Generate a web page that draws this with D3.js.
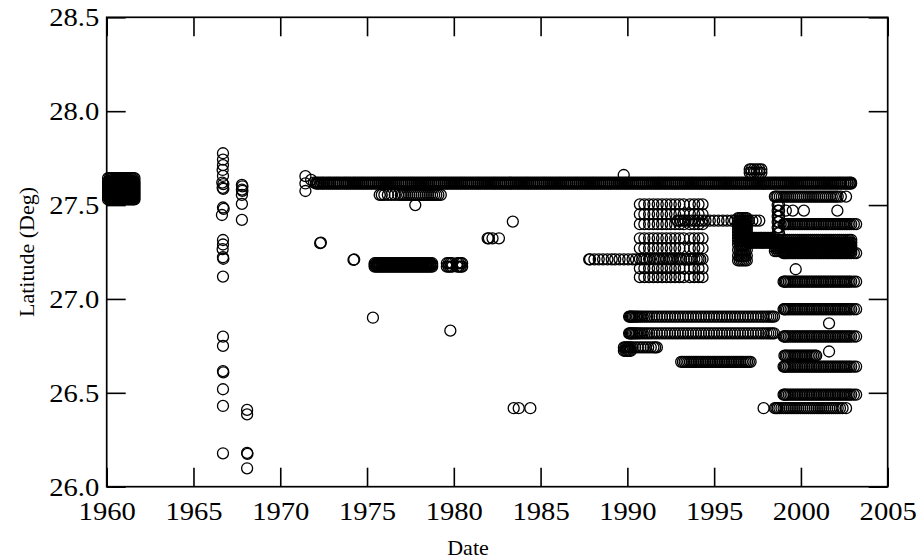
<!DOCTYPE html>
<html>
<head>
<meta charset="utf-8">
<script src="https://cdn.jsdelivr.net/npm/d3@7"></script>
<style>
  body { margin: 0; background: #fff; }
</style>
</head>
<body>
<svg id="chart" width="919" height="559"></svg>
<script>
// ---- axis ticks ----
const xTicks = [1960, 1965, 1970, 1975, 1980, 1985, 1990, 1995, 2000, 2005];
const yTicks = [26.0, 26.5, 27.0, 27.5, 28.0, 28.5];

// ---- observations: each group pairs a list of dates with the latitudes seen on them ----
const block1960Dates = [1960.08, 1960.17, 1960.26, 1960.35, 1960.44, 1960.53, 1960.62, 1960.71, 1960.8, 1960.89, 1960.98, 1961.07, 1961.16, 1961.25, 1961.34, 1961.43, 1961.52, 1961.6];
const block1960Lats = [27.53, 27.542, 27.554, 27.566, 27.578, 27.59, 27.602, 27.614, 27.626, 27.643];

const mainRowDates = [1972.08, 1972.18, 1972.3, 1972.42, 1972.52, 1972.65, 1972.77, 1972.88, 1973.0, 1973.12, 1973.24, 1973.35, 1973.47, 1973.6, 1973.72, 1973.83, 1973.95, 1974.07, 1974.2, 1974.31, 1974.43, 1974.55, 1974.67, 1974.78, 1974.9, 1975.02, 1975.14, 1975.26, 1975.38, 1975.5, 1975.62, 1975.73, 1975.85, 1975.97, 1976.09, 1976.21, 1976.33, 1976.45, 1976.57, 1976.68, 1976.8, 1976.92, 1977.04, 1977.16, 1977.28, 1977.4, 1977.52, 1977.63, 1977.75, 1977.87, 1977.99, 1978.11, 1978.23, 1978.35, 1978.47, 1978.58, 1978.7, 1978.82, 1978.94, 1979.06, 1979.18, 1979.3, 1979.42, 1979.53, 1979.65, 1979.77, 1979.89, 1980.01, 1980.13, 1980.25, 1980.37, 1980.48, 1980.6, 1980.72, 1980.84, 1980.96, 1981.08, 1981.2, 1981.32, 1981.43, 1981.55, 1981.67, 1981.79, 1981.91, 1982.03, 1982.15, 1982.27, 1982.38, 1982.5, 1982.62, 1982.74, 1982.86, 1982.98, 1983.1, 1983.22, 1983.33, 1983.45, 1983.57, 1983.69, 1983.81, 1983.93, 1984.05, 1984.17, 1984.28, 1984.4, 1984.52, 1984.64, 1984.76, 1984.88, 1985.0, 1985.12, 1985.23, 1985.35, 1985.47, 1985.59, 1985.71, 1985.83, 1985.95, 1986.07, 1986.18, 1986.3, 1986.42, 1986.54, 1986.66, 1986.78, 1986.9, 1987.02, 1987.13, 1987.25, 1987.37, 1987.49, 1987.61, 1987.73, 1987.85, 1987.97, 1988.08, 1988.2, 1988.32, 1988.44, 1988.56, 1988.68, 1988.8, 1988.92, 1989.03, 1989.15, 1989.27, 1989.39, 1989.51, 1989.63, 1989.75, 1989.87, 1989.98, 1990.1, 1990.22, 1990.34, 1990.46, 1990.58, 1990.7, 1990.82, 1990.93, 1991.05, 1991.17, 1991.29, 1991.41, 1991.53, 1991.65, 1991.77, 1991.88, 1992.0, 1992.12, 1992.24, 1992.36, 1992.48, 1992.6, 1992.72, 1992.83, 1992.95, 1993.07, 1993.19, 1993.31, 1993.43, 1993.55, 1993.67, 1993.78, 1993.9, 1994.02, 1994.14, 1994.26, 1994.38, 1994.5, 1994.62, 1994.73, 1994.85, 1994.97, 1995.09, 1995.21, 1995.33, 1995.45, 1995.57, 1995.68, 1995.8, 1995.92, 1996.04, 1996.16, 1996.28, 1996.4, 1996.52, 1996.63, 1996.75, 1996.87, 1996.99, 1997.11, 1997.23, 1997.35, 1997.47, 1997.58, 1997.7, 1997.82, 1997.94, 1998.06, 1998.18, 1998.3, 1998.42, 1998.53, 1998.65, 1998.77, 1998.89, 1999.01, 1999.13, 1999.25, 1999.37, 1999.48, 1999.6, 1999.72, 1999.84, 1999.96, 2000.08, 2000.2, 2000.32, 2000.43, 2000.55, 2000.67, 2000.79, 2000.91, 2001.03, 2001.15, 2001.27, 2001.38, 2001.5, 2001.62, 2001.74, 2001.86, 2001.98, 2002.1, 2002.22, 2002.33, 2002.45, 2002.57, 2002.69, 2002.81, 2002.89];
const mainRowLats = [27.614, 27.619];

const row1977UpperDates = [1975.73, 1975.85, 1976.0, 1976.2, 1976.4, 1976.6, 1976.8, 1976.95, 1977.07, 1977.19, 1977.31, 1977.43, 1977.55, 1977.67, 1977.79, 1977.91, 1978.03, 1978.15, 1978.27, 1978.39, 1978.51, 1978.63, 1978.75, 1978.87, 1978.99, 1979.11, 1979.25];
const row1977UpperLats = [27.554];

const row1977LowerDates = [1975.44, 1975.54, 1975.64, 1975.74, 1975.84, 1975.94, 1976.04, 1976.14, 1976.24, 1976.34, 1976.44, 1976.54, 1976.64, 1976.74, 1976.84, 1976.94, 1977.04, 1977.14, 1977.24, 1977.34, 1977.44, 1977.54, 1977.64, 1977.74, 1977.84, 1977.94, 1978.04, 1978.14, 1978.24, 1978.34, 1978.44, 1978.54, 1978.64, 1978.75];
const row1977LowerLats = [27.172, 27.181, 27.19];

const row1980Dates = [1979.6, 1979.7, 1979.8, 1979.9, 1980.2, 1980.3, 1980.4, 1980.48];
const row1980Lats = [27.172, 27.19];

const row1988Dates = [1987.8, 1987.85, 1988.1, 1988.35, 1988.6, 1988.85, 1989.1, 1989.3, 1989.55, 1989.8, 1990.05, 1990.3, 1990.5, 1990.85, 1991.1, 1991.3, 1991.6, 1991.85, 1992.1, 1992.4, 1992.6, 1992.9, 1993.1, 1993.4, 1993.7, 1994.0, 1994.2];
const row1988Lats = [27.211];

const grid1991Dates = [1990.72, 1990.98, 1991.25, 1991.5, 1991.75, 1992.0, 1992.25, 1992.5, 1992.75, 1993.0, 1993.25, 1993.6, 1993.85, 1994.1, 1994.33];
const grid1991Lats = [27.504, 27.451, 27.398, 27.323, 27.27, 27.213, 27.163, 27.116];

const row1995Dates = [1992.9, 1993.05, 1993.2, 1993.35, 1993.5, 1993.7, 1993.9, 1994.1, 1994.3, 1994.5, 1994.75, 1995.0, 1995.25, 1995.5, 1995.75, 1996.0, 1996.2, 1997.0, 1997.2, 1997.4, 1997.6];
const row1995Lats = [27.417];

const column1996Dates = [1996.38, 1996.48, 1996.58, 1996.68, 1996.78, 1996.88];
const column1996Lats = [27.43, 27.415, 27.4, 27.385, 27.37, 27.355, 27.34, 27.325, 27.31, 27.29, 27.26, 27.23, 27.205];

const band1997Dates = [1996.95, 1997.05, 1997.15, 1997.25, 1997.35, 1997.45, 1997.55, 1997.65, 1997.75, 1997.85, 1997.95, 1998.05, 1998.15, 1998.25, 1998.35];
const band1997Lats = [27.325, 27.312, 27.30];

const blob1997Dates = [1997.05, 1997.15, 1997.3, 1997.45, 1997.6, 1997.72];
const blob1997Lats = [27.69, 27.672];

const stack1998Dates = [1998.66, 1998.74];
const stack1998Lats = [27.50, 27.47, 27.44, 27.41, 27.38, 27.35];

const row2000UpperDates = [1998.5, 1998.58, 1998.66, 1998.78, 1998.9, 1999.02, 1999.14, 1999.26, 1999.38, 1999.5, 1999.62, 1999.74, 1999.86, 1999.98, 2000.1, 2000.22, 2000.34, 2000.46, 2000.58, 2000.7, 2000.82, 2000.94, 2001.06, 2001.18, 2001.3, 2001.42, 2001.54, 2001.66, 2001.78, 2001.9, 2002.02, 2002.12, 2002.3, 2002.6];
const row2000UpperLats = [27.545];

const lateDates = [1999.0, 1999.06, 1999.12, 1999.2, 1999.3, 1999.4, 1999.5, 1999.6, 1999.7, 1999.8, 1999.9, 2000.0, 2000.1, 2000.2, 2000.3, 2000.4, 2000.5, 2000.6, 2000.7, 2000.8, 2000.9, 2001.0, 2001.1, 2001.2, 2001.3, 2001.4, 2001.5, 2001.6, 2001.7, 2001.8, 2001.9, 2002.0, 2002.1, 2002.2, 2002.3, 2002.4, 2002.5, 2002.6, 2002.7, 2002.8, 2002.9, 2003.05, 2003.18];
const lateLats = [27.398, 27.244, 27.092, 26.945, 26.80, 26.64, 26.49];

const block1999Dates = [1998.5, 1998.62, 1998.74, 1998.86, 1998.98, 1999.1, 1999.22, 1999.34, 1999.46, 1999.58, 1999.7, 1999.82, 1999.94, 2000.06, 2000.18, 2000.3, 2000.42, 2000.54, 2000.66, 2000.78, 2000.9, 2001.02, 2001.14, 2001.26, 2001.38, 2001.5, 2001.62, 2001.74, 2001.86, 2001.98, 2002.1, 2002.22, 2002.34, 2002.46, 2002.58, 2002.7, 2002.8, 2002.9];
const block1999Lats = [27.315, 27.30, 27.285, 27.27, 27.255];

const row2000MidDates = [1999.05, 1999.12, 1999.2, 1999.3, 1999.4, 1999.5, 1999.6, 1999.7, 1999.8, 1999.9, 2000.0, 2000.1, 2000.2, 2000.3, 2000.4, 2000.5, 2000.6, 2000.7, 2000.8, 2000.88];
const row2000MidLats = [26.698];

const row2000LowDates = [1998.5, 1998.58, 1998.66, 1998.76, 1998.88, 1999.0, 1999.12, 1999.24, 1999.36, 1999.48, 1999.6, 1999.72, 1999.84, 1999.96, 2000.08, 2000.2, 2000.32, 2000.44, 2000.56, 2000.68, 2000.8, 2000.92, 2001.04, 2001.16, 2001.28, 2001.4, 2001.52, 2001.64, 2001.76, 2001.88, 2002.0, 2002.12, 2002.25, 2002.4, 2002.6];
const row2000LowLats = [26.418];

const rows1994Dates = [1990.1, 1990.15, 1990.2, 1990.26, 1990.32, 1990.4, 1990.48, 1990.56, 1990.65, 1990.75, 1990.87, 1991.0, 1991.13, 1991.26, 1991.4, 1991.55, 1991.7, 1991.85, 1992.0, 1992.15, 1992.3, 1992.45, 1992.6, 1992.75, 1992.9, 1993.05, 1993.2, 1993.35, 1993.5, 1993.65, 1993.8, 1993.95, 1994.1, 1994.25, 1994.4, 1994.55, 1994.7, 1994.85, 1995.0, 1995.15, 1995.3, 1995.45, 1995.6, 1995.75, 1995.9, 1996.05, 1996.2, 1996.35, 1996.5, 1996.65, 1996.8, 1996.95, 1997.1, 1997.25, 1997.4, 1997.55, 1997.7, 1997.85, 1998.0, 1998.12, 1998.24, 1998.35, 1998.45];
const rows1994Lats = [26.906, 26.817];

const row1990Dates = [1989.8, 1989.88, 1989.96, 1990.04, 1990.12, 1990.2, 1990.3, 1990.45, 1990.6, 1990.75, 1990.9, 1991.05, 1991.2, 1991.35, 1991.5, 1991.6, 1991.7];
const row1990Lats = [26.742];
const row1990LowDates = [1989.8, 1989.88, 1989.96, 1990.04, 1990.12, 1990.2];
const row1990LowLats = [26.724];

const row1995LowDates = [1993.1, 1993.2, 1993.3, 1993.4, 1993.5, 1993.6, 1993.7, 1993.8, 1993.9, 1994.0, 1994.1, 1994.2, 1994.3, 1994.4, 1994.5, 1994.6, 1994.7, 1994.8, 1994.9, 1995.0, 1995.1, 1995.2, 1995.3, 1995.4, 1995.5, 1995.6, 1995.7, 1995.8, 1995.9, 1996.0, 1996.1, 1996.2, 1996.3, 1996.4, 1996.5, 1996.6, 1996.7, 1996.8, 1996.9, 1997.0, 1997.1];
const row1995LowLats = [26.665];

// single observations as [date, latitude]
const isolatedObs = [
  [1966.70, 27.776], [1966.70, 27.742], [1966.70, 27.713], [1966.68, 27.687], [1966.70, 27.655],
  [1966.66, 27.62], [1966.72, 27.612], [1966.68, 27.592], [1966.72, 27.586], [1966.70, 27.487],
  [1966.74, 27.48], [1966.64, 27.447], [1966.70, 27.314], [1966.70, 27.29], [1966.68, 27.265],
  [1966.70, 27.222], [1966.72, 27.214], [1966.70, 27.119],
  [1966.70, 26.799], [1966.70, 26.75], [1966.70, 26.616], [1966.72, 26.609], [1966.70, 26.519],
  [1966.70, 26.43], [1966.70, 26.178],
  [1967.79, 27.607], [1967.82, 27.60], [1967.79, 27.582], [1967.82, 27.576], [1967.79, 27.554],
  [1967.79, 27.506], [1967.79, 27.421],
  [1968.09, 26.409], [1968.09, 26.385], [1968.09, 26.18], [1968.11, 26.175], [1968.09, 26.098],
  [1971.45, 27.654], [1971.45, 27.615], [1971.45, 27.575], [1971.78, 27.634], [1971.95, 27.62],
  [1972.30, 27.297], [1972.34, 27.30], [1974.22, 27.208], [1974.26, 27.21],
  [1975.34, 26.90], [1977.78, 27.50], [1979.80, 26.831],
  [1981.95, 27.323], [1982.02, 27.323], [1982.23, 27.323], [1982.60, 27.323],
  [1983.40, 27.412], [1983.45, 26.418], [1983.74, 26.418], [1984.41, 26.418],
  [1989.79, 27.66],
  [1997.85, 26.418], [1999.13, 27.47], [1999.53, 27.47], [2000.17, 27.47], [2002.10, 27.47],
  [1999.70, 27.158], [2001.62, 26.87], [2001.62, 26.72]
];

const groups = [
  [block1960Dates, block1960Lats],
  [mainRowDates, mainRowLats],
  [row1977UpperDates, row1977UpperLats],
  [row1977LowerDates, row1977LowerLats],
  [row1980Dates, row1980Lats],
  [row1988Dates, row1988Lats],
  [grid1991Dates, grid1991Lats],
  [row1995Dates, row1995Lats],
  [column1996Dates, column1996Lats],
  [band1997Dates, band1997Lats],
  [blob1997Dates, blob1997Lats],
  [stack1998Dates, stack1998Lats],
  [row2000UpperDates, row2000UpperLats],
  [lateDates, lateLats],
  [block1999Dates, block1999Lats],
  [row2000MidDates, row2000MidLats],
  [row2000LowDates, row2000LowLats],
  [rows1994Dates, rows1994Lats],
  [row1990Dates, row1990Lats],
  [row1990LowDates, row1990LowLats],
  [row1995LowDates, row1995LowLats]
];

// flatten every group into [date, latitude] points
const points = [];
groups.forEach(([dates, lats]) => {
  lats.forEach(lat => dates.forEach(d => points.push([d, lat])));
});
isolatedObs.forEach(p => points.push(p));

// ---- layout ----
const serif = "'Liberation Serif', 'Times New Roman', Times, serif";
const svg = d3.select("#chart");
const plot = { left: 106.7, right: 887.7, top: 17.3, bottom: 486.7 };

const x = d3.scaleLinear().domain([1960, 2005]).range([plot.left, plot.right]);
const y = d3.scaleLinear().domain([26.0, 28.5]).range([plot.bottom, plot.top]);

// ---- markers: open circles ----
svg.append("g")
  .selectAll("circle")
  .data(points)
  .join("circle")
  .attr("cx", d => x(d[0]))
  .attr("cy", d => y(d[1]))
  .attr("r", 5.5)
  .attr("fill", "none")
  .attr("stroke", "#000")
  .attr("stroke-width", 1.3);

// ---- axes: inward ticks on all four sides ----
const tickLen = 19;
const fmtY = d3.format(".1f");
const stretch = 1.1;

const gBottom = svg.append("g")
  .attr("transform", `translate(0,${plot.bottom})`)
  .call(d3.axisBottom(x).tickValues(xTicks).tickSize(-tickLen).tickFormat(d3.format("d")));
gBottom.selectAll("text")
  .attr("y", 33).attr("dy", null)
  .attr("transform", `scale(${stretch},1)`);

const gTop = svg.append("g")
  .attr("transform", `translate(0,${plot.top})`)
  .call(d3.axisTop(x).tickValues(xTicks).tickSize(-tickLen).tickFormat(""));

const gLeft = svg.append("g")
  .attr("transform", `translate(${plot.left},0)`)
  .call(d3.axisLeft(y).tickValues(yTicks).tickSize(-tickLen).tickFormat(fmtY));
gLeft.selectAll("text")
  .attr("x", -7.5 / stretch).attr("dy", "0.33em")
  .attr("transform", `scale(${stretch},1)`);

const gRight = svg.append("g")
  .attr("transform", `translate(${plot.right},0)`)
  .call(d3.axisRight(y).tickValues(yTicks).tickSize(-tickLen).tickFormat(""));

[gBottom, gTop, gLeft, gRight].forEach(g => {
  g.attr("font-family", serif).attr("font-size", 26);
  g.select(".domain").remove();
  g.selectAll(".tick line").attr("stroke", "#000").attr("stroke-width", 1.6);
  g.selectAll("text").attr("fill", "#000").style("font-family", serif).style("font-size", "26px");
});

// plot frame
svg.append("rect")
  .attr("x", plot.left)
  .attr("y", plot.top)
  .attr("width", plot.right - plot.left)
  .attr("height", plot.bottom - plot.top)
  .attr("fill", "none")
  .attr("stroke", "#000")
  .attr("stroke-width", 1.7);

// ---- axis titles ----
svg.append("text")
  .attr("x", 468)
  .attr("y", 555)
  .attr("text-anchor", "middle")
  .style("font-family", serif)
  .style("font-size", "22px")
  .text("Date");

svg.append("text")
  .attr("transform", `translate(34,${(plot.top + plot.bottom) / 2}) rotate(-90)`)
  .attr("text-anchor", "middle")
  .style("font-family", serif)
  .style("font-size", "22px")
  .text("Latitude (Deg)");
</script>
</body>
</html>
